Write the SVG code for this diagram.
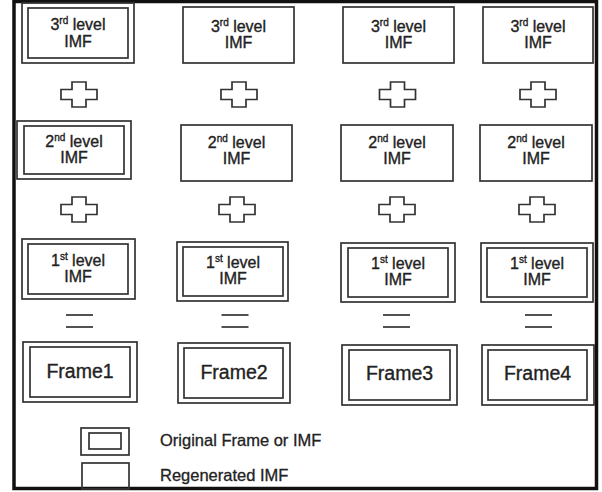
<svg xmlns="http://www.w3.org/2000/svg" width="602" height="492" viewBox="0 0 602 492">
<style>
.bx{fill:none;stroke:#333;stroke-width:1.7}
.t{font-family:"Liberation Sans",Arial,sans-serif;font-size:16px;fill:#222;stroke:#222;stroke-width:0.35;text-anchor:middle}
.f{font-family:"Liberation Sans",Arial,sans-serif;font-size:19.5px;fill:#222;stroke:#222;stroke-width:0.35;text-anchor:middle}
.lg{font-family:"Liberation Sans",Arial,sans-serif;font-size:16.5px;fill:#222;stroke:#222;stroke-width:0.3}
.sup{font-size:10px}
.op{fill:#fff;stroke:#333;stroke-width:1.7}
.eq{stroke:#333;stroke-width:1.7}
</style>
<defs>
<path id="plus" d="M-7,-12.5 H7 V-5 H18 V5 H7 V12.5 H-7 V5 H-18 V-5 H-7 Z"/>
<g id="equal"><line x1="-13.5" y1="0" x2="13.5" y2="0"/><line x1="-13.5" y1="12" x2="13.5" y2="12"/></g>
</defs>
<rect x="0" y="0" width="602" height="492" fill="#fff"/>
<rect x="14" y="1.5" width="582.5" height="487" fill="none" stroke="#111" stroke-width="3.5"/>

<!-- Row 1: 3rd level -->
<g id="n3-1"><rect class="bx" x="22" y="3" width="112" height="60"/><rect class="bx" x="28" y="8" width="100" height="50"/>
<text class="t" x="78" y="30">3<tspan class="sup" dy="-6">rd</tspan><tspan dy="6"> level</tspan></text><text class="t" x="78" y="47">IMF</text></g>
<g id="n3-2"><rect class="bx" x="183" y="7" width="111" height="56"/>
<text class="t" x="238.5" y="32">3<tspan class="sup" dy="-6">rd</tspan><tspan dy="6"> level</tspan></text><text class="t" x="238.5" y="48">IMF</text></g>
<g id="n3-3"><rect class="bx" x="343" y="7" width="111" height="56"/>
<text class="t" x="398.5" y="32">3<tspan class="sup" dy="-6">rd</tspan><tspan dy="6"> level</tspan></text><text class="t" x="398.5" y="48">IMF</text></g>
<g id="n3-4"><rect class="bx" x="483" y="7" width="110" height="56"/>
<text class="t" x="538" y="32">3<tspan class="sup" dy="-6">rd</tspan><tspan dy="6"> level</tspan></text><text class="t" x="538" y="48">IMF</text></g>

<!-- Row 2: 2nd level -->
<g id="n2-1"><rect class="bx" x="17" y="121" width="114" height="58"/><rect class="bx" x="24" y="126" width="100" height="48"/>
<text class="t" x="74" y="147">2<tspan class="sup" dy="-6">nd</tspan><tspan dy="6"> level</tspan></text><text class="t" x="74" y="163">IMF</text></g>
<g id="n2-2"><rect class="bx" x="181" y="125" width="111" height="56"/>
<text class="t" x="236.5" y="148">2<tspan class="sup" dy="-6">nd</tspan><tspan dy="6"> level</tspan></text><text class="t" x="236.5" y="164">IMF</text></g>
<g id="n2-3"><rect class="bx" x="341" y="125" width="112" height="56"/>
<text class="t" x="397" y="148">2<tspan class="sup" dy="-6">nd</tspan><tspan dy="6"> level</tspan></text><text class="t" x="397" y="164">IMF</text></g>
<g id="n2-4"><rect class="bx" x="480" y="125" width="112" height="56"/>
<text class="t" x="536" y="148">2<tspan class="sup" dy="-6">nd</tspan><tspan dy="6"> level</tspan></text><text class="t" x="536" y="164">IMF</text></g>

<!-- Row 3: 1st level -->
<g id="n1-1"><rect class="bx" x="22" y="239" width="113" height="60"/><rect class="bx" x="28" y="244" width="100" height="50"/>
<text class="t" x="78" y="266">1<tspan class="sup" dy="-6">st</tspan><tspan dy="6"> level</tspan></text><text class="t" x="78" y="282">IMF</text></g>
<g id="n1-2"><rect class="bx" x="177" y="242" width="111" height="59"/><rect class="bx" x="183" y="247" width="100" height="49"/>
<text class="t" x="233" y="268">1<tspan class="sup" dy="-6">st</tspan><tspan dy="6"> level</tspan></text><text class="t" x="233" y="284">IMF</text></g>
<g id="n1-3"><rect class="bx" x="341" y="243" width="114" height="59"/><rect class="bx" x="348" y="248" width="100" height="49"/>
<text class="t" x="398" y="269">1<tspan class="sup" dy="-6">st</tspan><tspan dy="6"> level</tspan></text><text class="t" x="398" y="285">IMF</text></g>
<g id="n1-4"><rect class="bx" x="481" y="243" width="112" height="59"/><rect class="bx" x="487" y="248" width="100" height="49"/>
<text class="t" x="537" y="269">1<tspan class="sup" dy="-6">st</tspan><tspan dy="6"> level</tspan></text><text class="t" x="537" y="285">IMF</text></g>

<!-- Row 4: Frames -->
<g id="frame1"><rect class="bx" x="23" y="342" width="114" height="60"/><rect class="bx" x="30" y="347" width="100" height="50"/>
<text class="f" x="80" y="378">Frame1</text></g>
<g id="frame2"><rect class="bx" x="178" y="343" width="112" height="60"/><rect class="bx" x="184" y="348" width="99" height="50"/>
<text class="f" x="234" y="379">Frame2</text></g>
<g id="frame3"><rect class="bx" x="342" y="345" width="115" height="60"/><rect class="bx" x="349" y="350" width="101" height="50"/>
<text class="f" x="399.5" y="380">Frame3</text></g>
<g id="frame4"><rect class="bx" x="482" y="345" width="112" height="60"/><rect class="bx" x="488" y="350" width="99" height="50"/>
<text class="f" x="537.5" y="380">Frame4</text></g>

<!-- operators -->
<g id="connectors">
<use href="#plus" class="op" x="79" y="94.5"/>
<use href="#plus" class="op" x="239" y="94.5"/>
<use href="#plus" class="op" x="397.5" y="94.5"/>
<use href="#plus" class="op" x="538" y="94.5"/>
<use href="#plus" class="op" x="79" y="209.5"/>
<use href="#plus" class="op" x="237" y="209.5"/>
<use href="#plus" class="op" x="397" y="209.5"/>
<use href="#plus" class="op" x="537" y="209.5"/>
<use href="#equal" class="eq" x="79.5" y="315"/>
<use href="#equal" class="eq" x="235" y="315"/>
<use href="#equal" class="eq" x="396.5" y="315"/>
<use href="#equal" class="eq" x="538.5" y="315"/>
</g>

<!-- legend -->
<g id="legend-original"><rect class="bx" x="81" y="428" width="48" height="27"/><rect class="bx" x="89" y="433" width="32" height="16"/>
<text class="lg" x="160" y="446">Original Frame or IMF</text></g>
<g id="legend-regenerated"><rect class="bx" x="82" y="463" width="47" height="26"/>
<text class="lg" x="160" y="481">Regenerated IMF</text></g>
</svg>
